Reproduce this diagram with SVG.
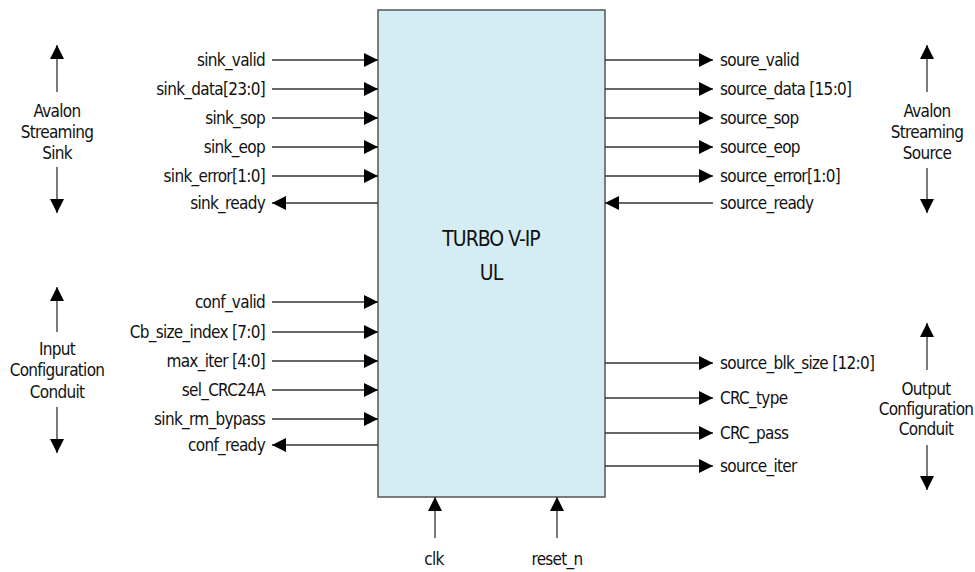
<svg xmlns="http://www.w3.org/2000/svg" width="975" height="572" viewBox="0 0 975 572">
<style>
text{font-family:"DejaVu Sans Condensed","Liberation Sans",sans-serif;font-stretch:condensed;fill:#111;font-size:17px;letter-spacing:-0.7px}
.l{text-anchor:end}
.r{text-anchor:start}
.c{text-anchor:middle}
.t{font-size:21px;text-anchor:middle;letter-spacing:-1px}
.w{stroke:#333;stroke-width:1.3;fill:none;marker-end:url(#ah)}
.box{fill:#d4ecf3;stroke:#555;stroke-width:1.5}
</style>
<defs>
<marker id="ah" viewBox="0 0 14 14" refX="14" refY="7" markerWidth="14" markerHeight="14" markerUnits="userSpaceOnUse" orient="auto">
<path d="M0,0 L14,7 L0,14 z" fill="#000"/>
</marker>
</defs>
<rect width="975" height="572" fill="#fff"/>
<g id="core">
<rect class="box" x="378" y="10" width="227" height="487"/>
<text class="t" x="491" y="246">TURBO V-IP</text>
<text class="t" x="491" y="280">UL</text>
</g>
<g id="connectors">
<line class="w" x1="272" y1="60" x2="378" y2="60"/>
<line class="w" x1="272" y1="89" x2="378" y2="89"/>
<line class="w" x1="272" y1="118" x2="378" y2="118"/>
<line class="w" x1="272" y1="147" x2="378" y2="147"/>
<line class="w" x1="272" y1="176" x2="378" y2="176"/>
<line class="w" x1="378" y1="203" x2="272" y2="203"/>
<line class="w" x1="272" y1="302" x2="378" y2="302"/>
<line class="w" x1="272" y1="332" x2="378" y2="332"/>
<line class="w" x1="272" y1="361" x2="378" y2="361"/>
<line class="w" x1="272" y1="390" x2="378" y2="390"/>
<line class="w" x1="272" y1="419" x2="378" y2="419"/>
<line class="w" x1="378" y1="445" x2="272" y2="445"/>
<line class="w" x1="605" y1="60" x2="713" y2="60"/>
<line class="w" x1="605" y1="89" x2="713" y2="89"/>
<line class="w" x1="605" y1="118" x2="713" y2="118"/>
<line class="w" x1="605" y1="147" x2="713" y2="147"/>
<line class="w" x1="605" y1="176" x2="713" y2="176"/>
<line class="w" x1="713" y1="203" x2="605" y2="203"/>
<line class="w" x1="605" y1="363" x2="713" y2="363"/>
<line class="w" x1="605" y1="398" x2="713" y2="398"/>
<line class="w" x1="605" y1="433" x2="713" y2="433"/>
<line class="w" x1="605" y1="466" x2="713" y2="466"/>
<line class="w" x1="435" y1="538" x2="435" y2="497"/>
<line class="w" x1="557" y1="538" x2="557" y2="497"/>
<line class="w" x1="57" y1="92" x2="57" y2="45"/>
<line class="w" x1="57" y1="167" x2="57" y2="213"/>
<line class="w" x1="57" y1="332" x2="57" y2="287"/>
<line class="w" x1="57" y1="407" x2="57" y2="453"/>
<line class="w" x1="927" y1="92" x2="927" y2="45"/>
<line class="w" x1="927" y1="168" x2="927" y2="213"/>
<line class="w" x1="927" y1="370" x2="927" y2="323"/>
<line class="w" x1="927" y1="445" x2="927" y2="490"/>
</g>
<g id="sink-labels">
<text class="l" x="265" y="66">sink_valid</text>
<text class="l" x="265" y="95">sink_data[23:0]</text>
<text class="l" x="265" y="124">sink_sop</text>
<text class="l" x="265" y="153">sink_eop</text>
<text class="l" x="265" y="182">sink_error[1:0]</text>
<text class="l" x="265" y="209">sink_ready</text>
</g>
<g id="conf-labels">
<text class="l" x="265" y="308">conf_valid</text>
<text class="l" x="265" y="338">Cb_size_index [7:0]</text>
<text class="l" x="265" y="367">max_iter [4:0]</text>
<text class="l" x="265" y="396">sel_CRC24A</text>
<text class="l" x="265" y="425">sink_rm_bypass</text>
<text class="l" x="265" y="451">conf_ready</text>
</g>
<g id="source-labels">
<text class="r" x="720" y="66">soure_valid</text>
<text class="r" x="720" y="95">source_data [15:0]</text>
<text class="r" x="720" y="124">source_sop</text>
<text class="r" x="720" y="153">source_eop</text>
<text class="r" x="720" y="182">source_error[1:0]</text>
<text class="r" x="720" y="209">source_ready</text>
</g>
<g id="outconf-labels">
<text class="r" x="720" y="369">source_blk_size [12:0]</text>
<text class="r" x="720" y="404">CRC_type</text>
<text class="r" x="720" y="439">CRC_pass</text>
<text class="r" x="720" y="472">source_iter</text>
</g>
<g id="clk-labels">
<text class="c" x="434" y="565">clk</text>
<text class="c" x="557" y="565">reset_n</text>
</g>
<g id="group-avalon-sink">
<text class="c" x="57" y="117">Avalon</text>
<text class="c" x="57" y="138">Streaming</text>
<text class="c" x="57" y="159">Sink</text>
</g>
<g id="group-avalon-source">
<text class="c" x="927" y="117">Avalon</text>
<text class="c" x="927" y="138">Streaming</text>
<text class="c" x="927" y="159">Source</text>
</g>
<g id="group-input-conf">
<text class="c" x="57" y="355">Input</text>
<text class="c" x="57" y="376">Configuration</text>
<text class="c" x="57" y="398">Conduit</text>
</g>
<g id="group-output-conf">
<text class="c" x="926" y="395">Output</text>
<text class="c" x="926" y="415">Configuration</text>
<text class="c" x="926" y="435">Conduit</text>
</g>
</svg>
